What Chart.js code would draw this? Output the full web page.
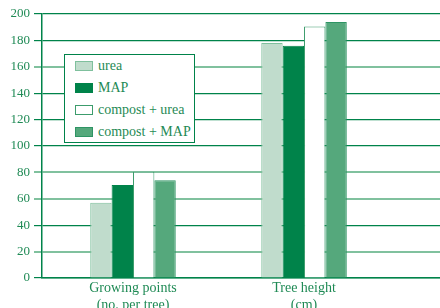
<!DOCTYPE html>
<html>
<head>
<meta charset="utf-8">
<script src="https://cdn.jsdelivr.net/npm/chart.js@4"></script>
<style>
  body { margin: 0; background: #fff; overflow: hidden; }
  #wrap { position: relative; width: 440px; height: 308px; }
  #legend {
    position: absolute; left: 64px; top: 54px; width: 131px; height: 89px;
    box-sizing: border-box; border: 1.5px solid #00834a; background: #fff;
    font-family: "Liberation Serif", serif; font-size: 14px; color: #1f8a55;
    padding-top: 0px;
  }
  .item { position: relative; height: 22px; line-height: 22px; padding-left: 33px; white-space: nowrap; }
  .sw { position: absolute; left: 10px; top: 6px; width: 18px; height: 10px; box-sizing: border-box; border: 1.5px solid; }
</style>
</head>
<body>
<div id="wrap">
  <canvas id="chart" width="440" height="308"></canvas>
  <div id="legend"></div>
</div>
<script>
const categories = [["Growing points", "(no. per tree)"], ["Tree height", "(cm)"]];
const treatments = ["urea", "MAP", "compost + urea", "compost + MAP"];
const urea = [57, 178];
const map = [70.5, 176];
const compostUrea = [80.5, 190.5];
const compostMap = [74, 194];
const yTicks = [0, 20, 40, 60, 80, 100, 120, 140, 160, 180, 200];

const green = "#00834a";
const textGreen = "#1f8a55";
const fills = ["#c0dccc", "#00834a", "#ffffff", "#55a87c"];
const borders = ["#7fc09d", "#00834a", "#3c9c6c", "#2e9464"];

const series = [urea, map, compostUrea, compostMap];
const lightLines = [20, 60, 80, 160];

const ctx = document.getElementById("chart");

new Chart(ctx, {
  type: "bar",
  data: {
    datasets: series.map((vals, i) => ({
      label: treatments[i],
      data: vals.map((v, idx) => ({ x: idx, y: v })),
      backgroundColor: fills[i],
      borderColor: borders[i],
      borderWidth: 1,
      categoryPercentage: 0.5,
      barPercentage: 1.0,
    })),
  },
  options: {
    responsive: false,
    animation: false,
    layout: { padding: { top: 14, right: 0, left: 0, bottom: 0 } },
    plugins: { legend: { display: false }, tooltip: { enabled: false } },
    scales: {
      x: {
        type: "linear",
        offset: false,
        bounds: "data",
        min: -0.532,
        max: 1.795,
        afterBuildTicks: (scale) => {
          scale.ticks = categories.map((_, i) => ({ value: i }));
        },
        afterFit: (scale) => { scale.height = 30; },
        grid: { color: "transparent", drawTicks: false, offset: false },
        border: { display: true, color: green, width: 1.5 },
        ticks: {
          padding: 2,
          color: textGreen,
          font: { family: "Liberation Serif", size: 14 },
          callback: (v) => categories[v] || "",
          maxRotation: 0,
        },
      },
      y: {
        min: 0,
        max: 200,
        afterBuildTicks: (scale) => {
          scale.ticks = yTicks.map((v) => ({ value: v }));
        },
        afterFit: (scale) => { scale.width = 42; },
        grid: {
          color: (c) => (lightLines.includes(c.tick && c.tick.value) ? "#80c19e" : green),
          lineWidth: (c) => (lightLines.includes(c.tick && c.tick.value) ? 2 : 1.2),
          tickLength: 8,
        },
        border: { display: true, color: green, width: 1.5 },
        ticks: {
          padding: 4,
          color: textGreen,
          font: { family: "Liberation Serif", size: 13 },
        },
      },
    },
  },
});

const legend = document.getElementById("legend");
treatments.forEach((name, i) => {
  const row = document.createElement("div");
  row.className = "item";
  const sw = document.createElement("span");
  sw.className = "sw";
  sw.style.background = fills[i];
  sw.style.borderColor = borders[i];
  row.appendChild(sw);
  row.appendChild(document.createTextNode(name));
  legend.appendChild(row);
});
</script>
</body>
</html>
